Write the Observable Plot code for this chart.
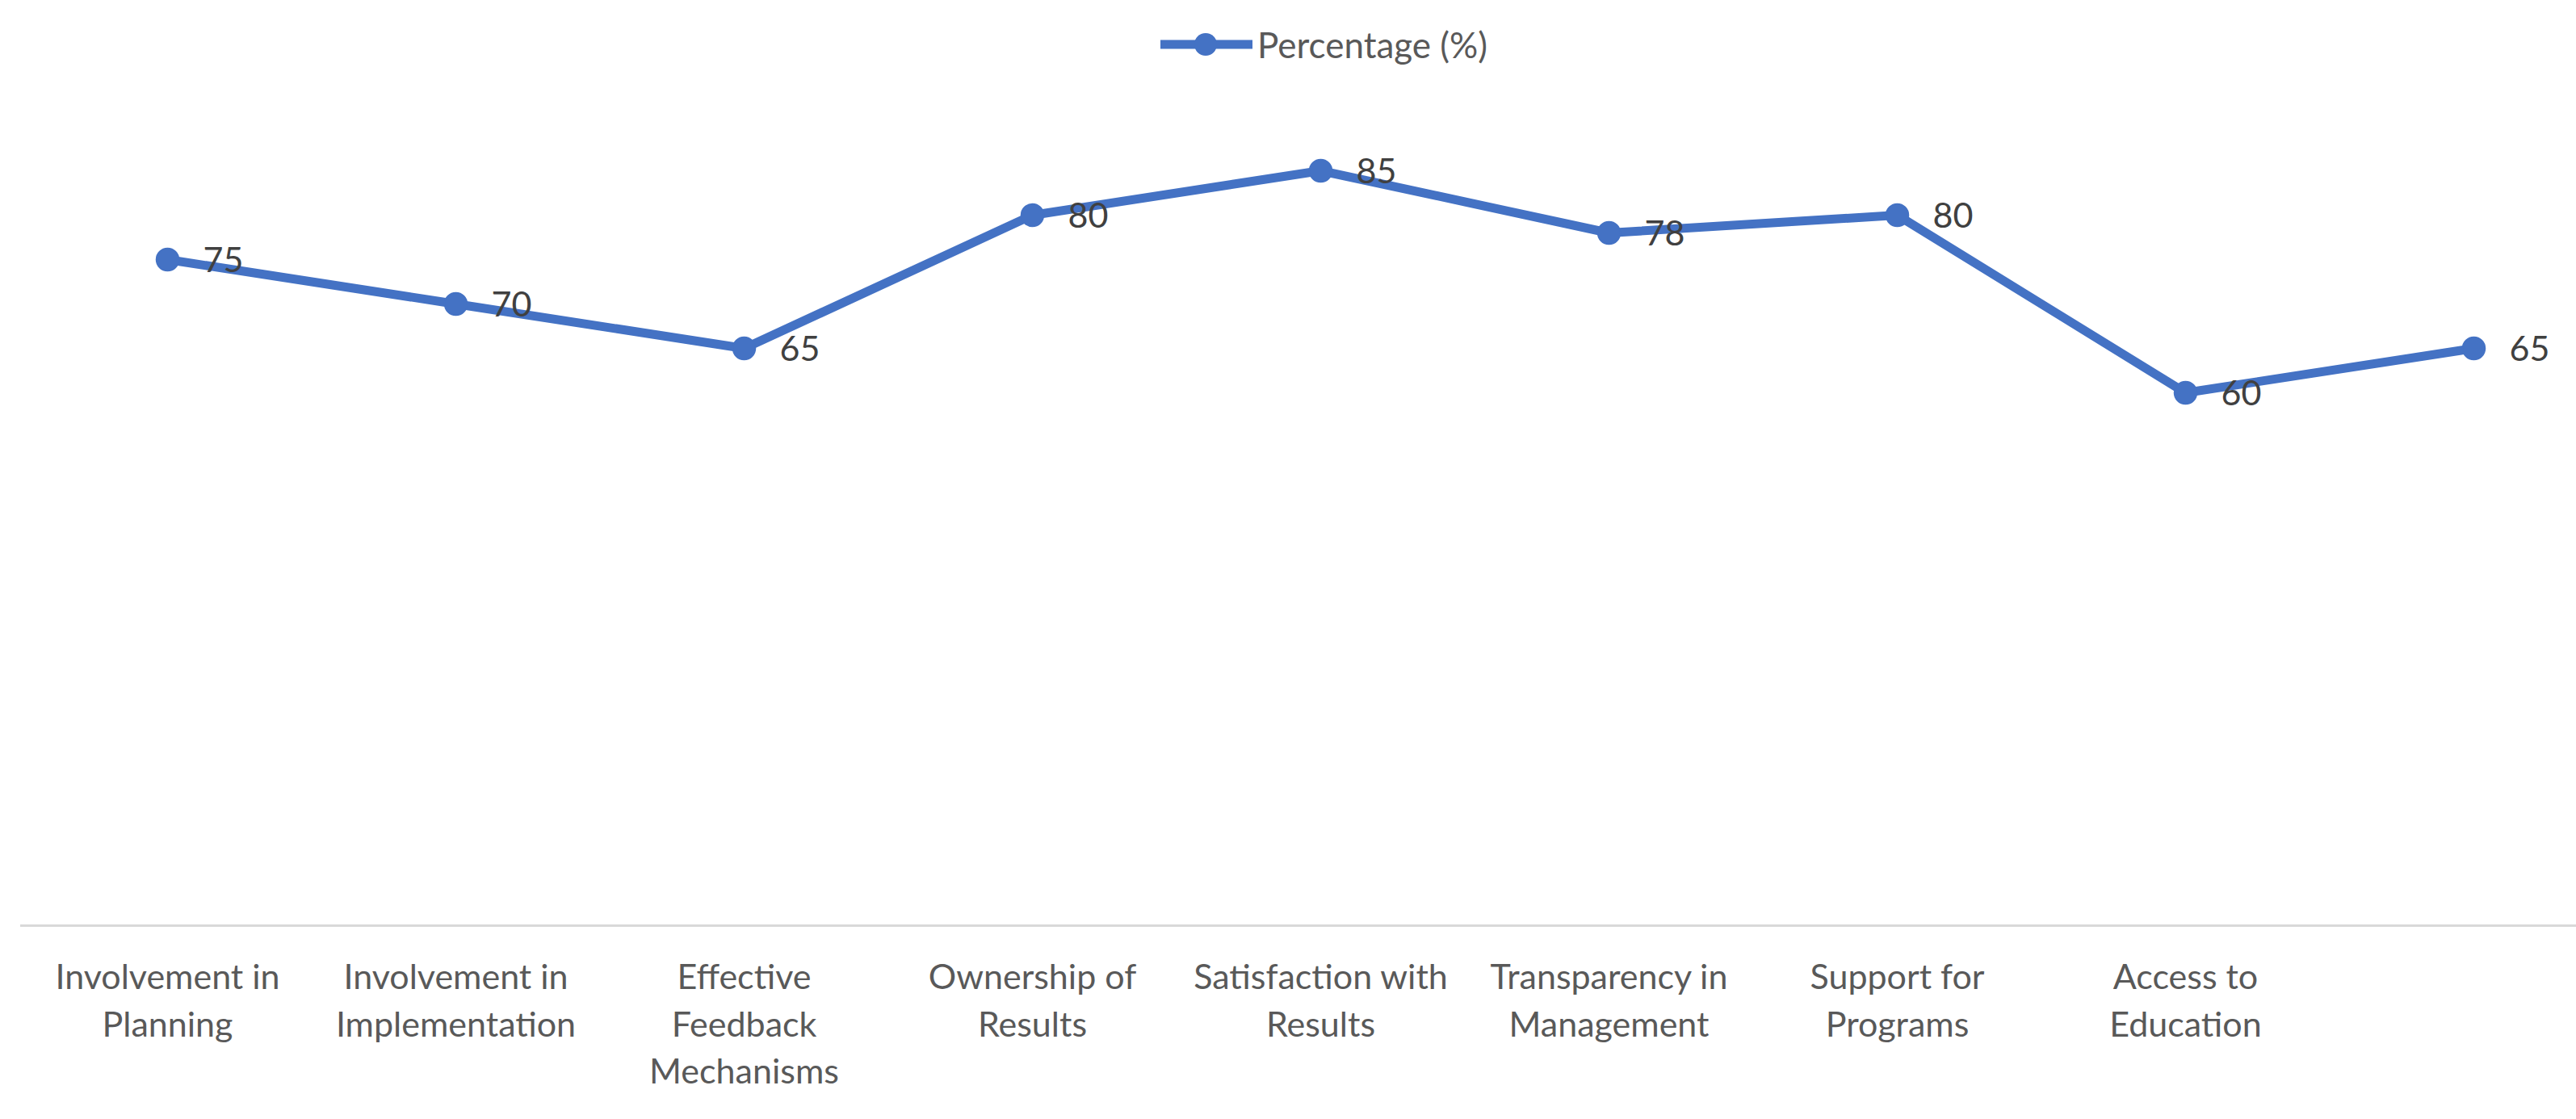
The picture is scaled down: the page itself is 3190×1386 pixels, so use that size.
<!DOCTYPE html>
<html>
<head>
<meta charset="utf-8">
<script src="https://cdn.jsdelivr.net/npm/d3@7"></script>
<script src="https://cdn.jsdelivr.net/npm/@observablehq/plot@0.6"></script>
<style>
  html, body { margin: 0; padding: 0; background: #fff; }
  #wrap { width: 3190px; height: 1386px; position: relative; overflow: hidden; }
  #legend { position: relative; height: 100px; width: 3190px; }
  #legend .item { position: absolute; left: 1437px; top: 25px; display: flex; align-items: center; height: 60px; }
  #legend .lbl { font-family: Lato, "Open Sans", sans-serif; font-size: 44px; color: #595959; margin-left: 6px; line-height: 60px; }
</style>
</head>
<body>
<div id="wrap">
  <div id="legend"><div class="item">
    <svg width="114" height="40" viewBox="0 0 114 40"><line x1="1" y1="20" x2="113" y2="20" stroke="#4472C4" stroke-width="11" stroke-linecap="round"/><circle cx="56" cy="20" r="14" fill="#4472C4"/></svg>
    <span class="lbl">Percentage (%)</span>
  </div></div>
  <div id="chart"></div>
</div>
<script>
const categories = [
  "Involvement in Planning",
  "Involvement in Implementation",
  "Effective Feedback Mechanisms",
  "Ownership of Results",
  "Satisfaction with Results",
  "Transparency in Management",
  "Support for Programs",
  "Access to Education",
  ""
];
const values = [75, 70, 65, 80, 85, 78, 80, 60, 65];
const tickLabels = [
  "Involvement in\nPlanning",
  "Involvement in\nImplementation",
  "Effective\nFeedback\nMechanisms",
  "Ownership of\nResults",
  "Satisfaction with\nResults",
  "Transparency in\nManagement",
  "Support for\nPrograms",
  "Access to\nEducation",
  ""
];
const seriesName = "Percentage (%)";

const data = categories.map((c, i) => ({category: c, value: values[i]}));
const blue = "#4472C4";

const chart = Plot.plot({
  width: 3190,
  height: 1286,
  marginTop: 56,
  marginBottom: 240,
  marginLeft: 25,
  marginRight: 0,
  style: {fontFamily: "Lato, 'Open Sans', sans-serif", background: "#fff"},
  x: {type: "point", domain: categories, range: [203, 3066], padding: 0, axis: null},
  y: {domain: [0, 90], axis: null},
  marks: [
    Plot.ruleY([0], {stroke: "#d9d9d9", strokeWidth: 3}),
    Plot.line(data, {x: "category", y: "value", stroke: blue, strokeWidth: 11, strokeLinejoin: "round", strokeLinecap: "round"}),
    Plot.dot(data, {x: "category", y: "value", r: 14, fill: blue, stroke: blue}),
    Plot.text(data, {x: "category", y: "value", text: d => String(d.value), textAnchor: "start", lineAnchor: "middle", dx: 44, dy: 2, fontSize: 43, fill: "#404040"}),
    Plot.text(categories, {x: d => d, text: (d, i) => tickLabels[i], frameAnchor: "bottom", lineAnchor: "top", dy: 37, fontSize: 43, lineHeight: 1.36, fill: "#595959", textAnchor: "middle"})
  ]
});
document.getElementById("chart").appendChild(chart);
</script>
</body>
</html>
